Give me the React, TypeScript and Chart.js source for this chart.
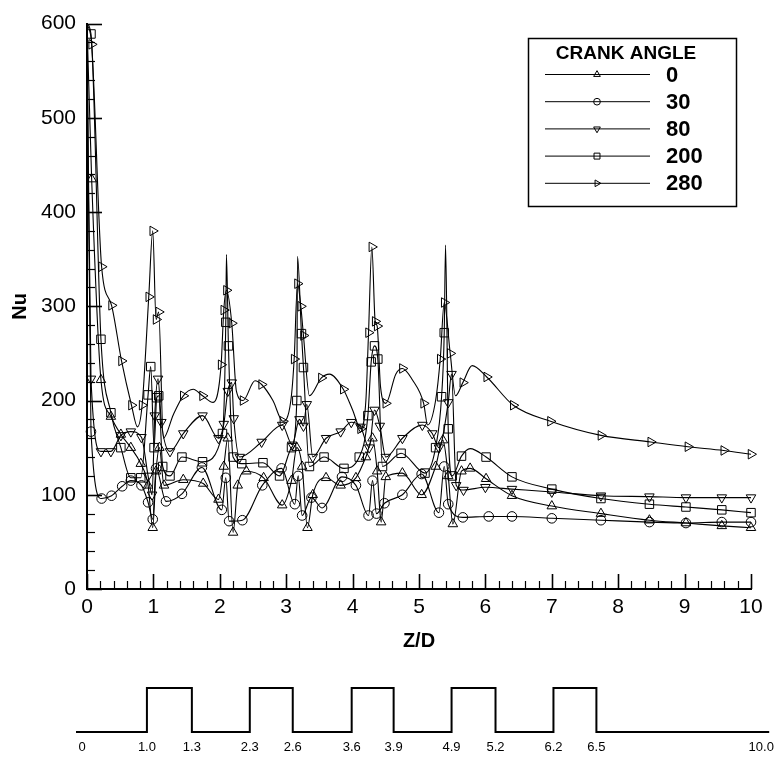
import React, { useEffect, useRef } from "react";
import { Chart, registerables } from "chart.js";

Chart.register(...registerables);

type Pt = [number, number] | [number, number, number];

// ---- data (Z/D, Nu); third element 0 = vertex drawn without a symbol ----
const crankAngles = ["0", "30", "80", "200", "280"];

const ca0: Pt[] = [
  [0, 600, 0], [0.07, 435], [0.21, 222], [0.36, 183], [0.51, 164], [0.66, 150], [0.81, 133],
  [0.92, 110], [0.99, 65], [1.04, 125], [1.09, 150], [1.16, 110], [1.45, 116], [1.75, 112],
  [1.98, 95], [2.06, 130], [2.12, 160], [2.2, 60], [2.27, 110], [2.4, 125], [2.66, 118],
  [2.94, 89], [3.08, 115], [3.16, 150], [3.24, 130], [3.32, 65], [3.4, 100], [3.6, 118],
  [3.82, 110], [4.05, 118], [4.2, 140], [4.3, 160], [4.37, 125], [4.43, 71], [4.5, 119],
  [4.75, 123], [5.04, 100], [5.25, 130], [5.36, 158], [5.44, 120], [5.51, 69], [5.64, 125],
  [5.77, 128], [6.01, 117], [6.4, 99], [7.0, 88], [7.74, 80], [8.47, 73], [9.02, 70],
  [9.56, 67], [10, 65],
];

const ca30: Pt[] = [
  [0, 600, 0], [0.06, 167], [0.22, 96], [0.37, 99], [0.53, 109], [0.66, 115], [0.82, 110],
  [0.92, 92], [0.99, 74], [1.04, 128], [1.19, 93], [1.43, 101], [1.73, 129], [2.03, 84],
  [2.09, 118], [2.14, 72], [2.34, 73], [2.64, 110], [2.93, 128], [3.13, 90], [3.18, 120],
  [3.24, 78], [3.38, 97], [3.54, 86], [3.84, 119], [4.05, 110], [4.24, 78], [4.3, 115],
  [4.36, 80], [4.48, 91], [4.75, 100], [5.04, 122], [5.3, 81], [5.38, 130], [5.44, 90],
  [5.66, 76], [6.05, 77], [6.4, 77], [7.0, 75], [7.74, 73], [8.47, 71], [9.02, 70],
  [9.56, 71], [10, 71],
];

const ca80: Pt[] = [
  [0, 600, 0], [0.06, 223], [0.21, 146], [0.36, 146], [0.51, 163], [0.66, 167], [0.82, 161],
  [0.92, 120], [0.98, 100], [1.02, 184], [1.07, 223], [1.12, 177], [1.25, 146], [1.45, 165],
  [1.74, 184], [1.98, 160], [2.06, 175], [2.12, 210], [2.18, 219], [2.21, 181], [2.3, 140],
  [2.63, 156], [2.94, 174], [3.09, 153], [3.2, 180], [3.26, 173], [3.31, 196], [3.4, 140],
  [3.6, 160], [3.82, 167], [3.98, 177], [4.12, 172], [4.25, 150], [4.33, 190], [4.41, 173],
  [4.5, 140], [4.75, 160], [5.05, 174], [5.2, 165], [5.3, 150], [5.44, 198], [5.49, 228],
  [5.56, 110], [5.67, 105], [6.0, 108], [6.4, 106], [7.0, 103], [7.74, 99], [8.47, 98],
  [9.02, 97], [9.56, 97], [10, 97],
];

const ca200: Pt[] = [
  [0, 600, 0], [0.06, 589], [0.21, 265], [0.36, 187], [0.51, 150], [0.66, 118], [0.81, 118],
  [0.92, 206], [0.96, 236], [1.01, 150], [1.05, 203], [1.08, 205], [1.14, 130], [1.25, 120],
  [1.43, 140], [1.74, 135], [2.04, 165], [2.09, 283], [2.1, 355, 0], [2.13, 258], [2.2, 140],
  [2.33, 133], [2.65, 134], [2.9, 120], [3.08, 150], [3.16, 200], [3.17, 353, 0], [3.23, 271],
  [3.26, 235], [3.35, 130], [3.57, 140], [3.87, 128], [4.1, 140], [4.23, 184], [4.28, 241],
  [4.33, 258], [4.38, 244], [4.45, 130], [4.73, 144], [5.09, 123], [5.25, 150], [5.34, 204],
  [5.38, 272], [5.4, 365, 0], [5.44, 170], [5.5, 120], [5.64, 141], [5.77, 149, 0], [6.01, 140],
  [6.4, 119], [7.0, 106], [7.74, 96], [8.47, 90], [9.02, 87], [9.56, 84], [10, 81],
];

const ca280: Pt[] = [
  [0, 600, 0], [0.07, 578], [0.22, 342], [0.37, 301], [0.52, 242], [0.67, 195], [0.76, 172, 0],
  [0.83, 195], [0.93, 310], [0.99, 380], [1.04, 286], [1.08, 294], [1.15, 160, 0], [1.3, 185, 0],
  [1.45, 205], [1.6, 212, 0], [1.74, 205], [1.9, 198, 0], [2.02, 238], [2.06, 296], [2.1, 317],
  [2.18, 282], [2.25, 210, 0], [2.35, 200], [2.53, 221, 0], [2.63, 217], [2.8, 200, 0],
  [2.95, 178], [3.07, 200, 0], [3.12, 244], [3.17, 324], [3.22, 300], [3.26, 269],
  [3.35, 205, 0], [3.53, 224], [3.65, 228, 0], [3.86, 212], [4.0, 190, 0], [4.12, 170],
  [4.2, 200, 0], [4.24, 272], [4.29, 363], [4.34, 284], [4.37, 279], [4.42, 215, 0], [4.5, 197],
  [4.65, 228, 0], [4.75, 234], [4.9, 222, 0], [5.07, 197], [5.13, 174, 0], [5.25, 200, 0],
  [5.32, 244], [5.38, 304], [5.47, 250], [5.55, 205, 0], [5.66, 219], [5.8, 237, 0], [6.02, 225],
  [6.42, 195], [6.98, 178], [7.74, 163], [8.49, 156], [9.05, 151], [9.59, 147], [10, 143],
];

const seriesList = [ca0, ca30, ca80, ca200, ca280];

const xTickValues = [0, 1, 2, 3, 4, 5, 6, 7, 8, 9, 10];
const yTickValues = [0, 100, 200, 300, 400, 500, 600];

// schematic of the ribbed channel (labels and their places along the sketch)
const schematicLabels = ["0", "1.0", "1.3", "2.3", "2.6", "3.6", "3.9", "4.9", "5.2", "6.2", "6.5", "10.0"];
const schematicPos = [0, 65, 110, 168, 211, 270, 312, 370, 414, 472, 515, 680];

// ---- styles ----
const FONT = "'Liberation Sans', Arial, Helvetica, sans-serif";
const markerStyles = [
  { style: "triangle", rot: 0, r: 5.5 },
  { style: "circle", rot: 0, r: 4.8 },
  { style: "triangle", rot: 180, r: 5.5 },
  { style: "rect", rot: 0, r: 6 },
  { style: "triangle", rot: 90, r: 5.5 },
];

function drawMarker(ctx: CanvasRenderingContext2D, style: string, rot: number, x: number, y: number, r: number) {
  ctx.beginPath();
  if (style === "circle") {
    ctx.arc(x, y, r, 0, Math.PI * 2);
  } else if (style === "rect") {
    const s = r * Math.SQRT1_2;
    ctx.rect(x - s, y - s, 2 * s, 2 * s);
  } else {
    let a = (rot * Math.PI) / 180;
    ctx.moveTo(x + Math.sin(a) * r, y - Math.cos(a) * r);
    for (let k = 0; k < 2; k++) {
      a += (2 * Math.PI) / 3;
      ctx.lineTo(x + Math.sin(a) * r, y - Math.cos(a) * r);
    }
    ctx.closePath();
  }
  ctx.stroke();
}

const innerTicks = {
  id: "innerTicks",
  afterDatasetsDraw(chart: any) {
    const { ctx, chartArea } = chart;
    const xs = chart.scales.x;
    const ys = chart.scales.y;
    ctx.save();
    ctx.strokeStyle = "#000";
    for (let i = 0; i <= 50; i++) {
      const v = i * 0.2;
      const major = i % 5 === 0;
      const px = Math.round(xs.getPixelForValue(v)) + 0.5;
      ctx.lineWidth = major ? 1.6 : 1.2;
      ctx.beginPath();
      ctx.moveTo(px, chartArea.bottom);
      ctx.lineTo(px, chartArea.bottom - (major ? 15 : 8));
      ctx.stroke();
    }
    for (let i = 0; i <= 30; i++) {
      const v = i * 20;
      const major = i % 5 === 0;
      const py = Math.round(ys.getPixelForValue(v)) + 0.5;
      ctx.lineWidth = major ? 1.6 : 1.2;
      ctx.beginPath();
      ctx.moveTo(chartArea.left, py);
      ctx.lineTo(chartArea.left + (major ? 15 : 8), py);
      ctx.stroke();
    }
    ctx.restore();
  },
};

const boxLegend = {
  id: "boxLegend",
  afterDraw(chart: any) {
    const { ctx } = chart;
    ctx.save();
    ctx.fillStyle = "#fff";
    ctx.fillRect(528, 38, 209, 169);
    ctx.strokeStyle = "#000";
    ctx.lineWidth = 1.5;
    ctx.strokeRect(528.5, 38.5, 208, 168);
    ctx.fillStyle = "#000";
    ctx.font = `bold 19px ${FONT}`;
    ctx.textAlign = "center";
    ctx.textBaseline = "middle";
    ctx.fillText("CRANK ANGLE", 626, 54);
    ctx.textAlign = "left";
    ctx.font = `bold 22px ${FONT}`;
    crankAngles.forEach((lab, i) => {
      const y = 74.5 + i * 27.2;
      ctx.lineWidth = 1;
      ctx.beginPath();
      ctx.moveTo(545, y);
      ctx.lineTo(650, y);
      ctx.stroke();
      const m = markerStyles[i];
      drawMarker(ctx, m.style, m.rot, 597, y, m.r * 0.7);
      ctx.fillText(lab, 666, y + 1);
    });
    ctx.restore();
  },
};

export default function App() {
  const mainRef = useRef<HTMLCanvasElement | null>(null);
  const schRef = useRef<HTMLCanvasElement | null>(null);

  useEffect(() => {
    Chart.defaults.font.family = FONT;
    Chart.defaults.color = "#000";

    const datasets = seriesList.map((s, i) => {
      const m = markerStyles[i];
      return {
        label: crankAngles[i],
        data: s.map((p) => ({ x: p[0], y: p[1] })),
        borderColor: "#000",
        borderWidth: 1.1,
        backgroundColor: "rgba(0,0,0,0)",
        pointStyle: m.style,
        pointRotation: m.rot,
        pointRadius: (c: any) => (s[c.dataIndex] && s[c.dataIndex][2] === 0 ? 0 : m.r),
        pointBorderColor: "#000",
        pointBorderWidth: 1,
        pointBackgroundColor: "rgba(0,0,0,0)",
        cubicInterpolationMode: "monotone",
        clip: false,
      };
    });

    const main = new Chart(mainRef.current as HTMLCanvasElement, {
      type: "line",
      data: { datasets } as any,
      options: {
        responsive: false,
        animation: false,
        events: [],
        layout: { padding: { left: 0, top: 16, right: 31, bottom: 0 } },
        plugins: { legend: { display: false }, tooltip: { enabled: false } },
        scales: {
          x: {
            type: "linear",
            min: 0,
            max: 10,
            afterBuildTicks: (sc: any) => {
              sc.ticks = xTickValues.map((v) => ({ value: v }));
            },
            afterFit: (sc: any) => {
              sc.height = 76;
            },
            ticks: { font: { size: 21 }, padding: 6, maxRotation: 0, autoSkip: false, color: "#000" },
            grid: { display: false, drawTicks: false },
            border: { display: true, color: "#000", width: 2 },
            title: { display: true, text: "Z/D", font: { size: 20, weight: "bold" }, color: "#000", padding: { top: 0, bottom: 12 } },
          },
          y: {
            type: "linear",
            min: 0,
            max: 600,
            afterBuildTicks: (sc: any) => {
              sc.ticks = yTickValues.map((v) => ({ value: v }));
            },
            afterFit: (sc: any) => {
              sc.width = 87;
            },
            ticks: { font: { size: 21 }, padding: 11, autoSkip: false, color: "#000" },
            grid: { display: false, drawTicks: false },
            border: { display: true, color: "#000", width: 2 },
            title: { display: true, text: "Nu", font: { size: 20, weight: "bold" }, color: "#000", padding: { top: 8, bottom: 0 } },
          },
        },
      } as any,
      plugins: [innerTicks, boxLegend],
    });

    // schematic
    const profile: { x: number; y: number }[] = [{ x: -6, y: 0 }];
    for (let i = 1; i < schematicPos.length - 1; i += 2) {
      const a = schematicPos[i];
      const b = schematicPos[i + 1];
      profile.push({ x: a, y: 0 }, { x: a, y: 1 }, { x: b, y: 1 }, { x: b, y: 0 });
    }
    profile.push({ x: 688, y: 0 });

    const sch = new Chart(schRef.current as HTMLCanvasElement, {
      type: "line",
      data: {
        datasets: [
          {
            data: profile,
            borderColor: "#000",
            borderWidth: 2,
            pointRadius: 0,
            tension: 0,
            clip: false,
          },
        ],
      } as any,
      options: {
        responsive: false,
        animation: false,
        events: [],
        layout: { padding: { left: 76, right: 12, top: 23, bottom: 0 } },
        plugins: { legend: { display: false }, tooltip: { enabled: false } },
        scales: {
          x: {
            type: "linear",
            min: -6,
            max: 688,
            afterBuildTicks: (sc: any) => {
              sc.ticks = schematicPos.map((v) => ({ value: v }));
            },
            afterFit: (sc: any) => {
              sc.height = 31;
            },
            ticks: {
              font: { size: 13 },
              padding: 8,
              maxRotation: 0,
              autoSkip: false,
              color: "#000",
              callback: (_v: any, idx: number) => schematicLabels[idx],
            },
            grid: { display: false, drawTicks: false },
            border: { display: false },
          },
          y: { type: "linear", min: 0, max: 1, display: false },
        },
      } as any,
    });

    return () => {
      main.destroy();
      sch.destroy();
    };
  }, []);

  return (
    <div style={{ position: "absolute", left: 0, top: 0, width: 782, height: 763, background: "#fff" }}>
      <canvas ref={mainRef} width={782} height={665} style={{ position: "absolute", left: 0, top: 0, width: 782, height: 665 }} />
      <canvas ref={schRef} width={782} height={98} style={{ position: "absolute", left: 0, top: 665, width: 782, height: 98 }} />
    </div>
  );
}
